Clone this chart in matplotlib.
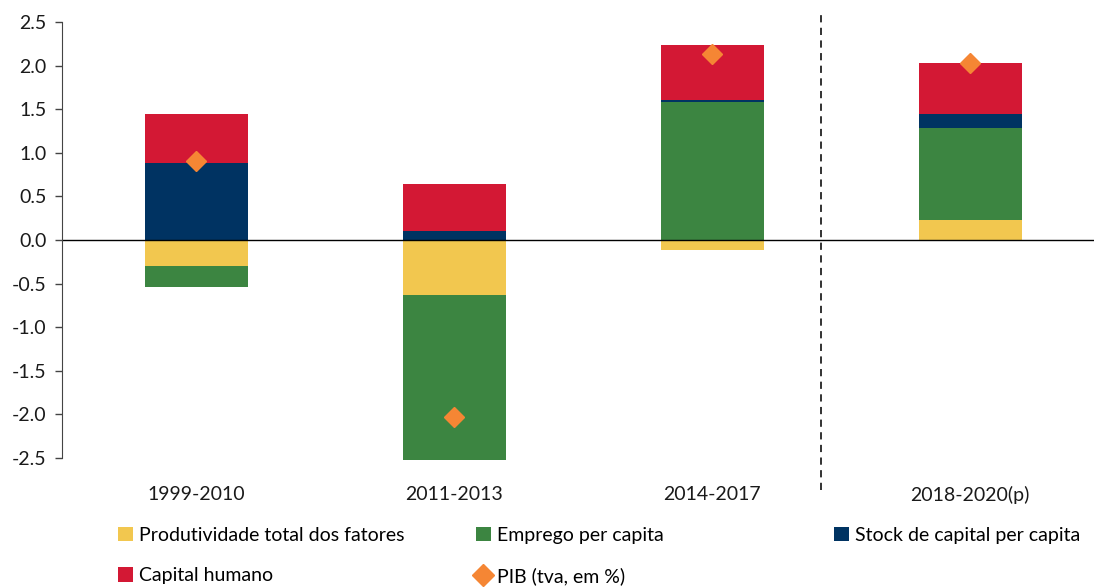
import numpy as np
import matplotlib
matplotlib.use("Agg")
import matplotlib.pyplot as plt
from matplotlib.lines import Line2D
from matplotlib.patches import Patch

plt.rcParams["font.family"] = ["Lato", "DejaVu Sans"]

periods = ["1999-2010", "2011-2013", "2014-2017", "2018-2020(p)"]
ptf = [-0.30, -0.63, -0.12, 0.23]
emprego = [-0.24, -1.89, 1.58, 1.06]
stock_capital = [0.88, 0.10, 0.03, 0.16]
capital_humano = [0.56, 0.54, 0.63, 0.58]
pib = [0.91, -2.03, 2.13, 2.03]

series = [
    ("Produtividade total dos fatores", ptf, "#F2C74F"),
    ("Emprego per capita", emprego, "#3C8541"),
    ("Stock de capital per capita", stock_capital, "#003362"),
    ("Capital humano", capital_humano, "#D31834"),
]
pib_color = "#F58634"

fig = plt.figure(figsize=(10.94, 5.88), dpi=100)
ax = fig.add_axes([62 / 1094, 1 - 458 / 588, 1 - 62 / 1094, (458 - 22) / 588])

x = np.arange(len(periods))
pos_base = np.zeros(len(periods))
neg_base = np.zeros(len(periods))
handles = {}
for name, vals, color in series:
    vals = np.array(vals)
    bottom = np.where(vals >= 0, pos_base, neg_base)
    ax.bar(x, vals, width=0.4, bottom=bottom, color=color, linewidth=0, clip_on=False)
    pos_base += np.where(vals >= 0, vals, 0)
    neg_base += np.where(vals < 0, vals, 0)
    handles[name] = Patch(facecolor=color)

ax.plot(x, pib, linestyle="none", marker="D", markersize=10, color=pib_color, zorder=5)

ax.axhline(0, color="black", linewidth=1)
# separator between observed and projected periods
ax.axvline(2.42, ymin=-0.073, ymax=1.028, color="#222222", linewidth=1.3,
           linestyle=(0, (4, 3)), clip_on=False)

ax.set_ylim(-2.5, 2.5)
ax.set_xlim(-0.52, 3.48)
ax.set_yticks(np.arange(-2.5, 2.51, 0.5))
ax.set_yticklabels([f"{v:.1f}" for v in np.arange(-2.5, 2.51, 0.5)])
ax.set_xticks(x)
ax.set_xticklabels(periods)
ax.tick_params(axis="x", length=0, pad=20, labelsize=14, colors="#1a1a1a")
ax.tick_params(axis="y", length=5, width=1, direction="out", labelsize=14,
               colors="#1a1a1a", pad=6)
ax.tick_params(axis="y", color="#444444")
for s in ["top", "right", "bottom"]:
    ax.spines[s].set_visible(False)
ax.spines["left"].set_color("#444444")

# legend in three columns, placed by hand
pib_handle = Line2D([], [], linestyle="none", marker="D", markersize=11, color=pib_color)
cols = [
    (118, ["Produtividade total dos fatores", "Capital humano"]),
    (476, ["Emprego per capita", "PIB (tva, em %)"]),
    (834, ["Stock de capital per capita"]),
]
for xpos, names in cols:
    hs = [handles.get(n, pib_handle) for n in names]
    fig.legend(hs, names, loc="upper left", bbox_to_anchor=(xpos / 1094, 1 - 527 / 588),
               frameon=False, fontsize=14, handlelength=0.75, handleheight=0.75,
               handletextpad=0.35, labelspacing=1.2, borderaxespad=0, borderpad=0)

fig.savefig("out.png", dpi=100)
